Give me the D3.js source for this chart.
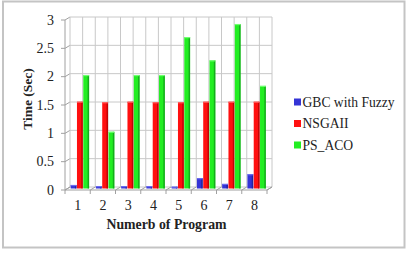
<!DOCTYPE html>
<html><head><meta charset="utf-8">
<script src="https://cdn.jsdelivr.net/npm/d3@7"></script>
<style>body{margin:0;background:#fff}svg{display:block}text{font-family:"Liberation Serif","Times New Roman",serif;fill:#222}</style>
</head><body>
<svg id="c" width="408" height="258"></svg>
<script>
const categories = ["1","2","3","4","5","6","7","8"];
const seriesNames = ["GBC with Fuzzy","NSGAII","PS_ACO"];
const gbc   = [0.06,0.04,0.04,0.04,0.03,0.18,0.08,0.25];
const nsga  = [1.53,1.52,1.53,1.52,1.52,1.53,1.53,1.53];
const psaco = [2.0,1.0,2.0,2.0,2.67,2.26,2.9,1.81];
const yTicks = [0,0.5,1,1.5,2,2.5,3];
const colors = ["#3434d6","#ff1010","#22ee22"];
const sideColors = ["#1c1c88","#a80000","#10901a"];
const topColors = ["#6a6af0","#ff6060","#70ff70"];

const svg = d3.select("#c");
const seriesVals = [gbc, nsga, psaco];

// frame
svg.append("rect").attr("x",3).attr("y",1.5).attr("width",401.5).attr("height",246)
  .attr("fill","#fff").attr("stroke","#c4c4c4").attr("stroke-width",2);

const dx = 5, dy = -3; // 3D depth offset (back wall relative to front)
const fx0 = 65, fx1 = 267;
const x = d3.scaleBand().domain(categories).range([fx0,fx1]);
const y = d3.scaleLinear().domain([0,3]).range([190,20]);
const grid = svg.append("g");

yTicks.forEach(t=>{
  grid.append("line").attr("x1",fx0+dx).attr("x2",fx1+dx).attr("y1",y(t)+dy).attr("y2",y(t)+dy)
    .attr("stroke","#c8c8c8").attr("stroke-width",1);
  grid.append("line").attr("x1",fx0).attr("x2",fx0+dx).attr("y1",y(t)).attr("y2",y(t)+dy)
    .attr("stroke","#a0a0a0").attr("stroke-width",1);
  grid.append("line").attr("x1",fx0-4).attr("x2",fx0).attr("y1",y(t)).attr("y2",y(t))
    .attr("stroke","#a0a0a0").attr("stroke-width",1);
});
d3.range(0,17).forEach(k=>{
  const xx = fx0+dx + k*x.bandwidth()/2;
  grid.append("line").attr("x1",xx).attr("x2",xx).attr("y1",y(3)+dy).attr("y2",y(0)+dy)
    .attr("stroke","#c8c8c8").attr("stroke-width",1);
});
grid.append("line").attr("x1",fx0).attr("x2",fx0).attr("y1",y(3)).attr("y2",y(0)).attr("stroke","#a0a0a0");
grid.append("line").attr("x1",fx0).attr("x2",fx1).attr("y1",y(0)).attr("y2",y(0)).attr("stroke","#a0a0a0");
grid.append("line").attr("x1",fx1).attr("x2",fx1+dx).attr("y1",y(0)).attr("y2",y(0)+dy).attr("stroke","#a0a0a0");
d3.range(0,9).forEach(i=>{
  const xx = fx0 + i*x.bandwidth();
  grid.append("line").attr("x1",xx).attr("x2",xx).attr("y1",y(0)).attr("y2",y(0)+4).attr("stroke","#a0a0a0");
  grid.append("line").attr("x1",xx).attr("x2",xx+dx).attr("y1",y(0)).attr("y2",y(0)+dy).attr("stroke","#a0a0a0");
});

// bars
const inner = d3.scaleBand().domain(seriesNames).range([0, x.bandwidth()]).paddingOuter(0.5).paddingInner(0);
const bx = 2.5, by = -1.5;
const sideW = 1.5, topH = 1.2;
const bars = svg.append("g");
categories.forEach((c,i)=>{
  seriesNames.forEach((s,j)=>{
    const v = seriesVals[j][i];
    const x0 = x(c) + inner(s) + bx;
    const w = inner.bandwidth() - 0.5;
    const yTop = y(v) + by, yBot = y(0) + by;
    bars.append("rect").attr("x",x0).attr("y",yTop).attr("width",w).attr("height",Math.max(0,yBot-yTop))
      .attr("fill",colors[j]);
    bars.append("rect").attr("x",x0+w-sideW).attr("y",yTop).attr("width",sideW).attr("height",Math.max(0,yBot-yTop))
      .attr("fill",sideColors[j]).attr("opacity",0.7);
    bars.append("rect").attr("x",x0).attr("y",yTop-0.2).attr("width",w).attr("height",topH)
      .attr("fill",topColors[j]);
  });
});

svg.append("g").selectAll("text").data(yTicks).join("text")
  .attr("x",54).attr("y",d=>y(d)).attr("dy","0.33em").attr("text-anchor","end")
  .attr("font-size",14).text(d=>d);
svg.append("g").selectAll("text").data(categories).join("text")
  .attr("x",d=>x(d)+x.bandwidth()/2).attr("y",205).attr("dy","0.35em").attr("text-anchor","middle")
  .attr("font-size",14).text(d=>d);
svg.append("text").attr("x",166.5).attr("y",224).attr("dy","0.35em").attr("text-anchor","middle")
  .attr("font-size",13.8).attr("font-weight","bold").text("Numerb of Program");
svg.append("text").attr("transform","translate(27,99) rotate(-90)").attr("dy","0.35em")
  .attr("text-anchor","middle").attr("font-size",13.5).attr("font-weight","bold").text("Time (Sec)");

const lg = svg.append("g");
seriesNames.forEach((s,j)=>{
  const yy = 102 + j*21.5;
  lg.append("rect").attr("x",294).attr("y",yy-3.5).attr("width",7).attr("height",7).attr("fill",colors[j]);
  lg.append("text").attr("x",302.5).attr("y",yy).attr("dy","0.35em").attr("font-size",13.6).text(s);
});
</script>
</body></html>
